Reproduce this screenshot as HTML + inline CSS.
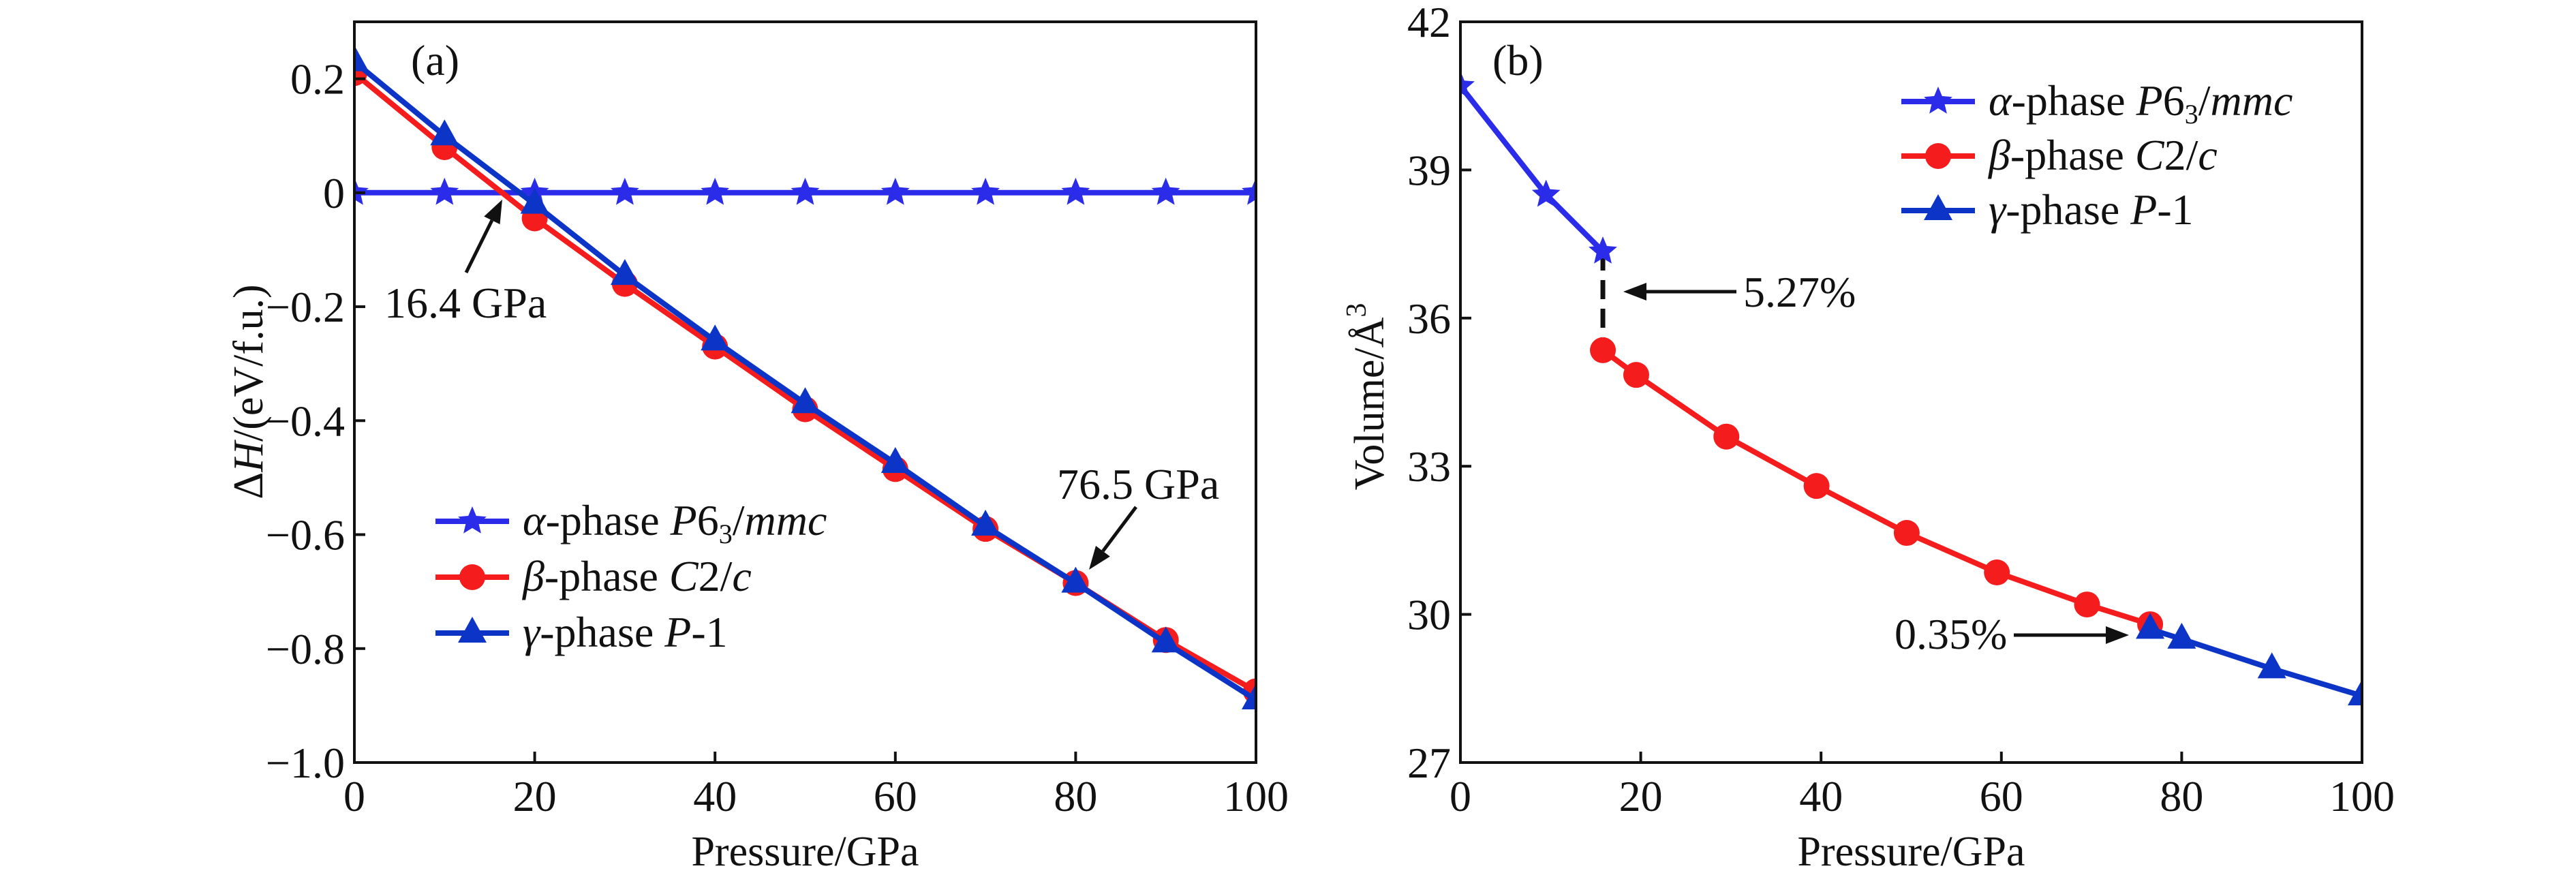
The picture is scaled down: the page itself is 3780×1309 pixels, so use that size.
<!DOCTYPE html>
<html><head><meta charset="utf-8"><style>
html,body{margin:0;padding:0;background:#fff}
svg, svg text{font-family:"Liberation Serif","Times New Roman","DejaVu Serif",serif}
</style></head><body>
<svg id="fig" width="3780" height="1304" viewBox="0 0 3780 1304" font-family="Liberation Serif, Times New Roman, serif"></svg>
<script>
// ---- Panel (a) data ----
const pressA = [0,10,20,30,40,50,60,70,80,90,100];
const alphaA = [0,0,0,0,0,0,0,0,0,0,0];
const betaA  = [0.21,0.08,-0.045,-0.16,-0.27,-0.38,-0.485,-0.59,-0.685,-0.785,-0.875];
const gammaA = [0.23,0.10,-0.02,-0.145,-0.26,-0.37,-0.475,-0.585,-0.685,-0.79,-0.89];
const yTicksA = [0.2,0,-0.2,-0.4,-0.6,-0.8,-1.0];
const yTickLabelsA = ["0.2","0","\u22120.2","\u22120.4","\u22120.6","\u22120.8","\u22121.0"];
const xTicks = [0,20,40,60,80,100];
// ---- Panel (b) data ----
const alphaBx = [0,9.5,15.8];
const alphaBy = [40.7,38.5,37.35];
const betaBx = [15.8,19.5,29.5,39.5,49.5,59.5,69.5,76.5];
const betaBy = [35.35,34.85,33.6,32.6,31.65,30.85,30.2,29.8];
const gammaBx = [76.5,80,90,100];
const gammaBy = [29.7,29.5,28.9,28.35];
const yTicksB = [27,30,33,36,39,42];

const NS="http://www.w3.org/2000/svg";
const svg=document.getElementById('fig');
const FF='"Liberation Serif","Times New Roman",serif';
function mk(tag,attrs,parent){const e=document.createElementNS(NS,tag);for(const k in attrs)e.setAttribute(k,attrs[k]);if(tag==='text')e.setAttribute('style','font-family:'+FF);(parent||svg).appendChild(e);return e;}
const C_ALPHA="#2b2bea", C_BETA="#f41c1c", C_GAMMA="#0c35c8";

function starPts(cx,cy,r){let p=[];for(let i=0;i<10;i++){const a=-Math.PI/2+i*Math.PI/5;const rr=i%2?r*0.45:r;p.push((cx+rr*Math.cos(a)).toFixed(1)+","+(cy+rr*Math.sin(a)).toFixed(1));}return p.join(" ");}
function marker(type,cx,cy,color,g){
  let e;
  if(type==='star'){e=mk('polygon',{points:starPts(cx,cy,22),fill:color},g);}
  else if(type==='circle'){e=mk('circle',{cx:cx,cy:cy,r:19,fill:color},g);}
  else {e=mk('polygon',{points:`${cx},${cy-24} ${cx-21},${cy+14} ${cx+21},${cy+14}`,fill:color},g);}
  
  
  return e;
}
function series(xs,ys,sx,sy,color,type,name,clipId){
  const g=mk('g',{'clip-path':`url(#${clipId})`});
  
  
  const pts=xs.map((x,i)=>sx(x).toFixed(1)+","+sy(ys[i]).toFixed(1)).join(" ");
  const l=mk('polyline',{points:pts,fill:'none',stroke:color,'stroke-width':8,'stroke-linejoin':'round'},g);
  
  
  xs.forEach((x,i)=>marker(type,sx(x),sy(ys[i]),color,g));
}
function text(x,y,str,attrs,name){
  const t=mk('text',Object.assign({x:x,y:y,'font-size':64,fill:'#111'},attrs||{}));
  t.innerHTML=str;
  
  
  return t;
}
function arrow(x1,y1,x2,y2,name){
  const g=mk('g',{});
  
  
  const dx=x2-x1,dy=y2-y1,L=Math.hypot(dx,dy),ux=dx/L,uy=dy/L;
  const hl=34,hw=13;
  const bx=x2-ux*hl,by=y2-uy*hl;
  mk('line',{x1:x1,y1:y1,x2:bx,y2:by,stroke:'#111','stroke-width':5},g);
  mk('polygon',{points:`${x2},${y2} ${bx-uy*hw},${by+ux*hw} ${bx+uy*hw},${by-ux*hw}`,fill:'#111'},g);
}
function legend(x0,y0,dy,items,name){
  const g=mk('g',{});
  
  
  items.forEach((it,i)=>{
    const y=y0+i*dy;
    const e=mk('g',{},g);
    
    
    mk('line',{x1:x0,y1:y,x2:x0+108,y2:y,stroke:it.color,'stroke-width':8},e);
    marker(it.type,x0+54,y,it.color,e);
    const t=mk('text',{x:x0+128,y:y+20,'font-size':64,fill:'#111'},e);
    t.innerHTML=it.label;
  });
}
const defs=mk('defs',{});

// ===== Panel A =====
const A={l:520,r:1843,t:32,b:1119,x0:0,x1:100,y0:-1.0,y1:0.3};
const sxA=v=>A.l+(v-A.x0)/(A.x1-A.x0)*(A.r-A.l);
const syA=v=>A.b-(v-A.y0)/(A.y1-A.y0)*(A.b-A.t);
const cpA=mk('clipPath',{id:'clipA'},defs);mk('rect',{x:A.l,y:A.t,width:A.r-A.l,height:A.b-A.t},cpA);

series(pressA,alphaA,sxA,syA,C_ALPHA,'star','alpha-series-a','clipA');
series(pressA,betaA,sxA,syA,C_BETA,'circle','beta-series-a','clipA');
series(pressA,gammaA,sxA,syA,C_GAMMA,'triangle','gamma-series-a','clipA');

function axes(P,sx,sy,yt,ytl,name){
  const g=mk('g',{});
  
  
  mk('rect',{x:P.l,y:P.t,width:P.r-P.l,height:P.b-P.t,fill:'none',stroke:'#111','stroke-width':4},g);
  xTicks.forEach(v=>{
    mk('line',{x1:sx(v),y1:P.b,x2:sx(v),y2:P.b-16,stroke:'#111','stroke-width':4},g);
    const t=mk('text',{x:sx(v),y:P.b+71,'font-size':64,'text-anchor':'middle',fill:'#111'},g);t.textContent=v;
  });
  yt.forEach((v,i)=>{
    mk('line',{x1:P.l,y1:sy(v),x2:P.l+16,y2:sy(v),stroke:'#111','stroke-width':4},g);
    const t=mk('text',{x:P.l-14,y:sy(v)+22,'font-size':64,'text-anchor':'end',fill:'#111'},g);t.textContent=ytl[i];
  });
}
axes(A,sxA,syA,yTicksA,yTickLabelsA,'axes-a');
text((A.l+A.r)/2,1270,'Pressure/GPa',{'text-anchor':'middle','font-size':62},'x-axis-title-a');
text(0,0,'Δ<tspan font-style="italic">H</tspan>/(eV/f.u.)',{'text-anchor':'middle','font-size':62,transform:'translate(385,575) rotate(-90)'},'y-axis-title-a');
text(603,110,'(a)',{},'panel-label-a');
text(564,466,'16.4 GPa',{},'annotation-16-4');
arrow(684,400,sxA(16.4),syA(-0.012),'arrow-16-4');
text(1551,732,'76.5 GPa',{},'annotation-76-5');
arrow(1667,744,1598,836,'arrow-76-5');
legend(639,765,82,[
 {key:'alpha',color:C_ALPHA,type:'star',label:'<tspan font-style="italic">α</tspan>-phase <tspan font-style="italic">P</tspan>6<tspan font-size="40" dy="12">3</tspan><tspan dy="-12">/</tspan><tspan font-style="italic">mmc</tspan>'},
 {key:'beta',color:C_BETA,type:'circle',label:'<tspan font-style="italic">β</tspan>-phase <tspan font-style="italic">C</tspan>2/<tspan font-style="italic">c</tspan>'},
 {key:'gamma',color:C_GAMMA,type:'triangle',label:'<tspan font-style="italic">γ</tspan>-phase <tspan font-style="italic">P</tspan>-1'}
],'legend-a');

// ===== Panel B =====
const B={l:2143,r:3466,t:32,b:1119,x0:0,x1:100,y0:27,y1:42};
const sxB=v=>B.l+(v-B.x0)/(B.x1-B.x0)*(B.r-B.l);
const syB=v=>B.b-(v-B.y0)/(B.y1-B.y0)*(B.b-B.t);
const cpB=mk('clipPath',{id:'clipB'},defs);mk('rect',{x:B.l,y:B.t,width:B.r-B.l,height:B.b-B.t},cpB);

const dash=mk('line',{x1:sxB(alphaBx[2]),y1:syB(alphaBy[2]),x2:sxB(betaBx[0]),y2:syB(betaBy[0]),stroke:'#111','stroke-width':7,'stroke-dasharray':'28 14'});


series(alphaBx,alphaBy,sxB,syB,C_ALPHA,'star','alpha-series-b','clipB');
series(betaBx,betaBy,sxB,syB,C_BETA,'circle','beta-series-b','clipB');
series(gammaBx,gammaBy,sxB,syB,C_GAMMA,'triangle','gamma-series-b','clipB');
axes(B,sxB,syB,yTicksB,yTicksB.map(String),'axes-b');
text((B.l+B.r)/2,1270,'Pressure/GPa',{'text-anchor':'middle','font-size':62},'x-axis-title-b');
text(0,0,'Volume/Å<tspan font-size="42" dy="-26">3</tspan>',{'text-anchor':'middle','font-size':62,transform:'translate(2030,582) rotate(-90)'},'y-axis-title-b');
text(2190,110,'(b)',{},'panel-label-b');
text(2558,450,'5.27%',{},'annotation-5-27');
arrow(2548,428,2382,428,'arrow-5-27');
text(2780,952,'0.35%',{},'annotation-0-35');
arrow(2955,932,3124,932,'arrow-0-35');
legend(2790,149,80,[
 {key:'alpha',color:C_ALPHA,type:'star',label:'<tspan font-style="italic">α</tspan>-phase <tspan font-style="italic">P</tspan>6<tspan font-size="40" dy="12">3</tspan><tspan dy="-12">/</tspan><tspan font-style="italic">mmc</tspan>'},
 {key:'beta',color:C_BETA,type:'circle',label:'<tspan font-style="italic">β</tspan>-phase <tspan font-style="italic">C</tspan>2/<tspan font-style="italic">c</tspan>'},
 {key:'gamma',color:C_GAMMA,type:'triangle',label:'<tspan font-style="italic">γ</tspan>-phase <tspan font-style="italic">P</tspan>-1'}
],'legend-b');
</script>
</body></html>
